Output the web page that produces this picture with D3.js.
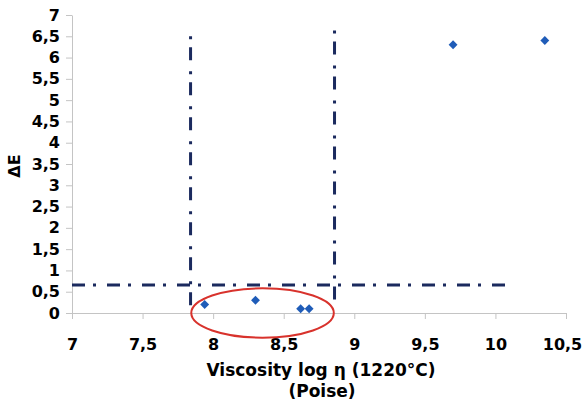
<!DOCTYPE html>
<html>
<head>
<meta charset="utf-8">
<script src="https://cdn.jsdelivr.net/npm/d3@7"></script>
<style>
  html, body { margin: 0; padding: 0; background: #fff; }
  text { font-family: "DejaVu Sans", sans-serif; font-weight: bold; fill: #000; }
</style>
</head>
<body>
<div id="chart"></div>
<script>
// measured points (viscosity log eta, delta E)
const viscosity = [7.94, 8.30, 8.62, 8.68, 9.70, 10.35];
const deltaE = [0.2, 0.3, 0.1, 0.1, 6.3, 6.4];

const xTicks = [7, 7.5, 8, 8.5, 9, 9.5, 10, 10.5];
const yTicks = [0, 0.5, 1, 1.5, 2, 2.5, 3, 3.5, 4, 4.5, 5, 5.5, 6, 6.5, 7];

// dash-dot limit lines: [x1, y1, x2, y2]
const limitLines = [
    [7.84, 0.18, 7.84, 6.6],
    [8.86, 0.32, 8.86, 6.72],
    [7.0, 0.66, 10.1, 0.66]
];
// highlighted group: center x, center y, radius x, radius y (data units)
const ellipseGroup = [8.35, 0.0, 0.505, 0.58];

const width = 584, height = 404;
const margin = { top: 15, right: 18, bottom: 91, left: 72 };

const svg = d3.select('#chart')
    .append('svg')
    .attr('width', width)
    .attr('height', height);

const x = d3.scaleLinear()
    .domain([7, 10.5])
    .range([margin.left, width - margin.right]);
const y = d3.scaleLinear()
    .domain([0, 7])
    .range([height - margin.bottom, margin.top]);

const fmt = d => String(d).replace('.', ',');

// x axis
const xAxis = svg.append('g')
    .attr('transform', 'translate(0,' + y(0) + ')')
    .call(d3.axisBottom(x).tickValues(xTicks).tickFormat(fmt).tickSizeInner(6).tickSizeOuter(0).tickPadding(20));
xAxis.select('.domain').attr('stroke', '#c4c4c4');
xAxis.selectAll('.tick line').attr('stroke', '#c4c4c4');
xAxis.selectAll('.tick text').attr('font-size', 16).attr('font-family', '"DejaVu Sans", sans-serif').attr('font-weight', 'bold');
// last label sits a little left of its tick, as in the original
xAxis.selectAll('.tick text').filter(d => d === 10.5).attr('dx', -4);

// y axis
const yAxis = svg.append('g')
    .attr('transform', 'translate(' + x(7) + ',0)')
    .call(d3.axisLeft(y).tickValues(yTicks).tickFormat(fmt).tickSizeInner(6).tickSizeOuter(0).tickPadding(6));
yAxis.select('.domain').attr('stroke', '#c4c4c4');
yAxis.selectAll('.tick line').attr('stroke', '#c4c4c4');
yAxis.selectAll('.tick text').attr('font-size', 16).attr('font-family', '"DejaVu Sans", sans-serif').attr('font-weight', 'bold');

// limit lines
svg.selectAll('line.limit')
    .data(limitLines)
    .enter()
    .append('line')
    .attr('class', 'limit')
    .attr('x1', d => x(d[0]))
    .attr('y1', d => y(d[1]))
    .attr('x2', d => x(d[2]))
    .attr('y2', d => y(d[3]))
    .attr('stroke', '#1b2a5e')
    .attr('stroke-width', 3)
    .attr('stroke-dasharray', '13,8,3,11');

// red ellipse
svg.append('ellipse')
    .attr('cx', x(ellipseGroup[0]))
    .attr('cy', y(ellipseGroup[1]))
    .attr('rx', x(ellipseGroup[0] + ellipseGroup[2]) - x(ellipseGroup[0]))
    .attr('ry', y(0) - y(ellipseGroup[3]))
    .attr('fill', 'none')
    .attr('stroke', '#d8322c')
    .attr('stroke-width', 2);

// diamond markers
svg.selectAll('path.pt')
    .data(viscosity)
    .enter()
    .append('path')
    .attr('class', 'pt')
    .attr('d', d3.symbol().type(d3.symbolDiamond2).size(50))
    .attr('transform', (d, i) => 'translate(' + x(d) + ',' + y(deltaE[i]) + ')')
    .attr('fill', '#1f5cb8');

// axis titles
svg.append('text')
    .attr('x', 321).attr('y', 376)
    .attr('text-anchor', 'middle')
    .attr('font-size', 17)
    .text('Viscosity log η (1220°C)');
svg.append('text')
    .attr('x', 322).attr('y', 397)
    .attr('text-anchor', 'middle')
    .attr('font-size', 17)
    .text('(Poise)');
svg.append('text')
    .attr('transform', 'translate(20,166) rotate(-90)')
    .attr('text-anchor', 'middle')
    .attr('font-size', 16)
    .text('ΔE');
</script>
</body>
</html>
